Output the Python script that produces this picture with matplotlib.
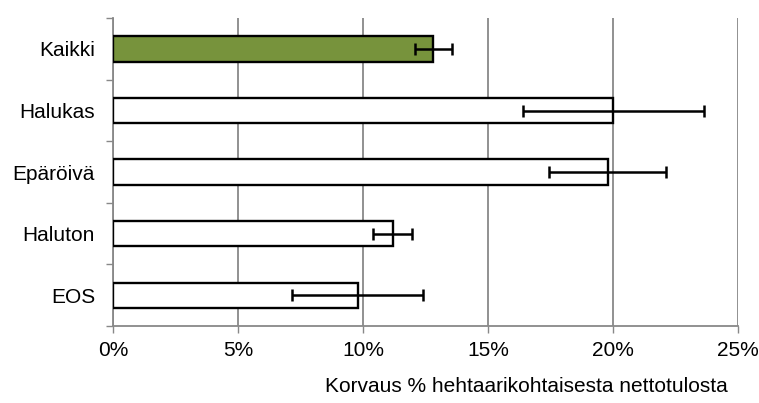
import numpy as np
import matplotlib
matplotlib.use("Agg")
from matplotlib import pyplot as plt
from matplotlib.ticker import FixedLocator, PercentFormatter

# data (percent)
groups = ["Kaikki", "Halukas", "Epäröivä", "Haluton", "EOS"]
values = [12.8, 20.0, 19.8, 11.2, 9.8]
err_low = [12.08, 16.4, 17.44, 10.4, 7.16]
err_high = [13.56, 23.64, 22.12, 11.96, 12.4]
colors = ["#77933C", "white", "white", "white", "white"]
xticks = [0, 5, 10, 15, 20, 25]

plt.rcParams['font.family'] = ['Liberation Sans', 'DejaVu Sans']

fig = plt.figure(figsize=(7.59, 4.03), dpi=100)
ax = fig.add_axes([0.149, 0.191, 0.823, 0.764])

pos = np.arange(len(groups))
vals = np.array(values)
xerr = np.array([vals - np.array(err_low), np.array(err_high) - vals])

ax.barh(pos, vals, height=0.41, color=colors, edgecolor="black",
        linewidth=1.7, zorder=3)
ax.errorbar(vals, pos, xerr=xerr, fmt="none", ecolor="black",
            elinewidth=1.8, capsize=4, capthick=1.8, zorder=4)

ax.set_ylim(len(groups) - 0.5, -0.5)
ax.set_xlim(0, 25)
ax.set_yticks(pos)
ax.set_yticklabels(groups)
ax.yaxis.set_minor_locator(FixedLocator(np.arange(-0.5, len(groups), 1.0)))
ax.tick_params(axis="y", which="major", length=0, pad=13, labelsize=15)
ax.tick_params(axis="y", which="minor", length=5, color="#888888", width=1)

ax.set_xticks(xticks)
ax.xaxis.set_major_formatter(PercentFormatter(decimals=0))
ax.tick_params(axis="x", length=5, color="#888888", width=1,
               labelsize=15, pad=6)

ax.grid(axis="x", color="#888888", linewidth=1.3, zorder=0)
for s in ["top", "right"]:
    ax.spines[s].set_visible(False)
for s in ["left", "bottom"]:
    ax.spines[s].set_color("#888888")
    ax.spines[s].set_linewidth(1.3)

fig.text(0.693, 0.04, "Korvaus % hehtaarikohtaisesta nettotulosta",
         ha="center", va="center", fontsize=15)

fig.savefig("out.png", dpi=100)
